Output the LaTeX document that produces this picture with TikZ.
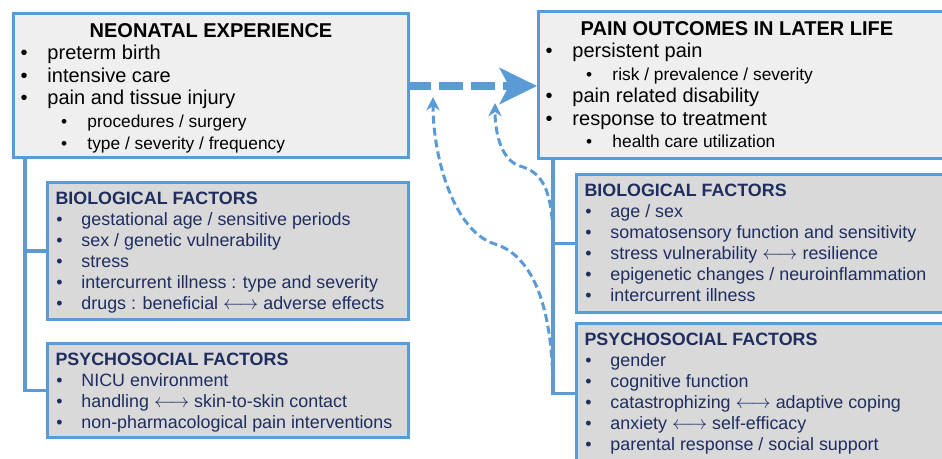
\documentclass[tikz,border=0pt]{standalone}
\usepackage{fontspec}
\setmainfont{Liberation Sans}
\usetikzlibrary{arrows.meta}

\definecolor{boxblue}{RGB}{91,155,213}
\definecolor{topfill}{RGB}{239,239,239}
\definecolor{factfill}{RGB}{217,217,217}
\definecolor{navy}{RGB}{31,45,96}

\newcommand{\mainitm}[1]{\par\hspace*{5.4pt}\makebox[20.1pt][l]{\textbullet}#1}
\newcommand{\subitm}[1]{\par{\fontsize{13pt}{16.8pt}\selectfont\hspace*{35.8pt}\makebox[19.7pt][l]{\textbullet}#1}}
\newcommand{\factitm}[1]{\par\hspace*{6.7pt}\makebox[18.8pt][l]{\textbullet}#1}
\newcommand{\facttitle}[1]{\rule{0pt}{16.5pt}\hspace*{6pt}\textbf{#1}}
\newcommand{\lrarr}{$\longleftrightarrow$}

\begin{document}
\begin{tikzpicture}[x=0.75pt,y=0.75pt,yscale=-1,xscale=1,
  topbox/.style={draw=boxblue,line width=2.25pt,fill=topfill,inner sep=0pt,anchor=north west,
    font=\fontsize{15pt}{16.8pt}\selectfont},
  factbox/.style={draw=boxblue,line width=2.25pt,fill=factfill,inner sep=0pt,anchor=north west,
    text=navy,font=\fontsize{13.4pt}{15.75pt}\selectfont},
  trunk/.style={draw=boxblue,line width=2.4pt},
  bigarrow/.style={draw=boxblue,line width=5.5pt,dash pattern={on 18pt off 6pt},
    -{Stealth[length=28pt,width=27pt,inset=7pt]}},
  feedback/.style={draw=boxblue,line width=2.25pt,dash pattern={on 6pt off 3pt},
    -{Stealth[length=10pt,width=10pt]}}]
\useasboundingbox (0,0) rectangle (942,458);
\clip (0,0) rectangle (942,458);

%Shape: Rectangle -- neonatal experience
\node[topbox] (neo) at (12,12) {\parbox[c][108pt][t]{296.25pt}{%
  \rule{0pt}{18pt}\makebox[296.25pt][c]{\bfseries NEONATAL EXPERIENCE}
  \mainitm{preterm birth}
  \mainitm{intensive care}
  \mainitm{pain and tissue injury}
  \subitm{procedures / surgery}
  \subitm{type / severity / frequency}}};
%Shape: Rectangle -- pain outcomes
\node[topbox] (out) at (537,10) {\parbox[c][110.25pt][t]{311.25pt}{%
  \rule{0pt}{18pt}\makebox[297.75pt][c]{\bfseries PAIN OUTCOMES IN LATER LIFE}
  \mainitm{persistent pain}
  \subitm{risk / prevalence / severity}
  \mainitm{pain related disability}
  \mainitm{response to treatment}
  \subitm{health care utilization}}};

%Shape: Rectangle -- neonatal factors
\node[factbox] (neobio) at (46,181) {\parbox[c][102.75pt][t]{270.75pt}{%
  \facttitle{BIOLOGICAL FACTORS}
  \factitm{gestational age / sensitive periods}
  \factitm{sex / genetic vulnerability}
  \factitm{stress}
  \factitm{intercurrent illness : type and severity}
  \factitm{drugs : beneficial \lrarr{} adverse effects}}};
\node[factbox] (neopsy) at (46,342) {\parbox[c][70.5pt][t]{270.75pt}{%
  \facttitle{PSYCHOSOCIAL FACTORS}
  \factitm{NICU environment}
  \factitm{handling \lrarr{} skin-to-skin contact}
  \factitm{non-pharmacological pain interventions}}};

%Shape: Rectangle -- later life factors
\node[factbox] (outbio) at (575,173) {\parbox[c][103.5pt][t]{285pt}{%
  \facttitle{BIOLOGICAL FACTORS}
  \factitm{age / sex}
  \factitm{somatosensory function and sensitivity}
  \factitm{stress vulnerability \lrarr{} resilience}
  \factitm{epigenetic changes / neuroinflammation}
  \factitm{intercurrent illness}}};
\node[factbox] (outpsy) at (575,322) {\parbox[c][105pt][t]{285pt}{%
  \facttitle{PSYCHOSOCIAL FACTORS}
  \factitm{gender}
  \factitm{cognitive function}
  \factitm{catastrophizing \lrarr{} adaptive coping}
  \factitm{anxiety \lrarr{} self-efficacy}
  \factitm{parental response / social support}}};

%Straight Lines
\coordinate (ltop) at (25,156);
\coordinate (rtop) at (553,157);
\draw[trunk] (ltop) |- (neobio.west);
\draw[trunk] (ltop) |- (neopsy.west);
\draw[trunk] (rtop) |- (outbio.west);
\draw[trunk] (rtop) |- (outpsy.west);

%Arrow
\coordinate (arrstart) at (407,86);
\draw[bigarrow] (arrstart) -- (arrstart -| out.west);

%Curves
\coordinate (tipa) at (433,97);
\coordinate (tipb) at (495,103);
\draw[feedback] (rtop |- outpsy.west) .. controls (553,300) and (530,255) .. (495,244) .. controls (455,232) and (433,160) .. (tipa);
\draw[feedback] (rtop |- outbio.west) .. controls (553,185) and (540,172) .. (520,166) .. controls (500,160) and (495,130) .. (tipb);

\end{tikzpicture}
\end{document}
